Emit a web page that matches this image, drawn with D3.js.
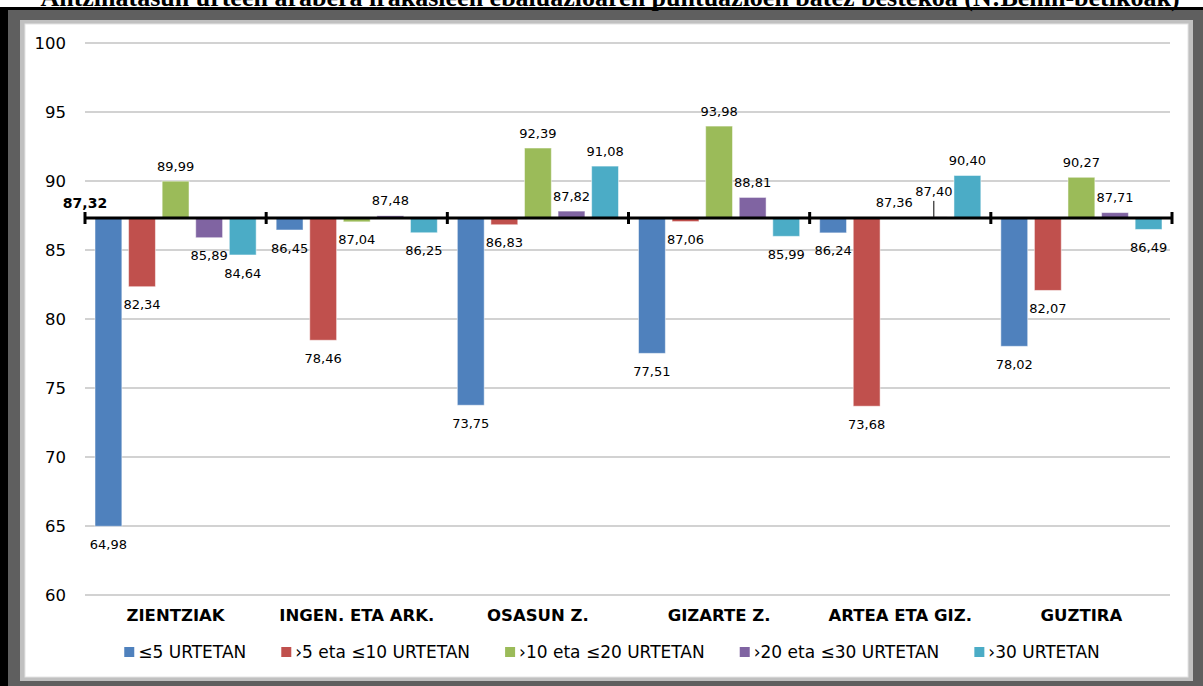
<!DOCTYPE html>
<html>
<head>
<meta charset="utf-8">
<script src="https://cdn.jsdelivr.net/npm/d3@7"></script>
<style>
  body { margin: 0; background: #fff; }
  svg { display: block; }
</style>
</head>
<body>
<script>
    // Chart data
    var categories = ["ZIENTZIAK", "INGEN. ETA ARK.", "OSASUN Z.", "GIZARTE Z.", "ARTEA ETA GIZ.", "GUZTIRA"];
    var series = ["≤5 URTETAN", "›5 eta ≤10 URTETAN", "›10 eta ≤20 URTETAN", "›20 eta ≤30 URTETAN", "›30 URTETAN"];
    var colors = ["#4f81bd", "#c0504d", "#9bbb59", "#8064a2", "#4bacc6"];

    var upTo5 = [64.98, 86.45, 73.75, 77.51, 86.24, 78.02];
    var from5to10 = [82.34, 78.46, 86.83, 87.06, 73.68, 82.07];
    var from10to20 = [89.99, 87.04, 92.39, 93.98, 87.36, 90.27];
    var from20to30 = [85.89, 87.48, 87.82, 88.81, 87.40, 87.71];
    var over30 = [84.64, 86.25, 91.08, 85.99, 90.40, 86.49];
    var values = [upTo5, from5to10, from10to20, from20to30, over30];

    var baseline = 87.32;
    var yTicks = [60, 65, 70, 75, 80, 85, 90, 95, 100];

    var title = "Antzinatasun urteen arabera irakasleen ebaluazioaren puntuazioen batez bestekoa (N:Behin-betikoak)";

    var w = 1203, h = 686;
    var fmt = v => v.toFixed(2).replace(".", ",");

    var svg = d3.select("body").append("svg")
        .attr("width", w)
        .attr("height", h);

    // Frame
    svg.append("rect").attr("x", 0).attr("y", 0).attr("width", w).attr("height", h).attr("fill", "#fff");
    svg.append("rect").attr("x", 0).attr("y", 7).attr("width", w).attr("height", h - 7).attr("fill", "#000");
    svg.append("rect").attr("x", 8).attr("y", 10).attr("width", w - 8).attr("height", h - 10).attr("fill", "#5f5f5f");
    svg.append("rect").attr("x", 20).attr("y", 20).attr("width", 1173).attr("height", 661).attr("fill", "#c0c0c0");
    svg.append("rect").attr("x", 25).attr("y", 24).attr("width", 1163).attr("height", 653)
        .attr("fill", "#fff").attr("stroke", "#e4e4e4").attr("stroke-width", 1);

    // Title, cut off at the top of the picture as in the source
    svg.append("text")
        .attr("x", 610).attr("y", 6)
        .attr("text-anchor", "middle")
        .attr("font-family", "Liberation Serif")
        .attr("font-weight", "bold")
        .attr("font-size", 26)
        .text(title);
    // redraw the black band over the title's descenders
    svg.append("rect").attr("x", 0).attr("y", 7).attr("width", w).attr("height", 3).attr("fill", "#000");

    // Scales
    var x = d3.scaleBand().domain(categories).range([85, 1172]);
    var xs = d3.scaleBand().domain(d3.range(series.length))
        .range([10, x.bandwidth() - 10]).paddingInner(0.2);
    var y = d3.scaleLinear().domain([60, 100]).range([595, 43]);

    // Gridlines
    svg.append("g").selectAll("line")
        .data(yTicks)
        .enter().append("line")
        .attr("x1", 85).attr("x2", 1170)
        .attr("y1", d => y(d)).attr("y2", d => y(d))
        .attr("stroke", "#a6a6a6").attr("stroke-width", 1.2);

    // Y axis labels
    svg.append("g")
        .attr("transform", "translate(66,0)")
        .call(d3.axisLeft(y).tickValues(yTicks).tickSize(0).tickPadding(0))
        .call(g => g.select(".domain").remove())
        .selectAll("text")
        .attr("font-family", "DejaVu Sans")
        .attr("font-size", 16.5)
        .attr("fill", "#000");

    // Bars
    var flat = [];
    values.forEach((arr, s) => arr.forEach((v, c) => flat.push({s: s, c: categories[c], v: v})));

    svg.append("g").selectAll("rect")
        .data(flat)
        .enter().append("rect")
        .attr("x", d => x(d.c) + xs(d.s))
        .attr("width", xs.bandwidth())
        .attr("y", d => Math.min(y(d.v), y(baseline)))
        .attr("height", d => Math.abs(y(d.v) - y(baseline)))
        .attr("fill", d => colors[d.s])
        .attr("stroke", "#fff").attr("stroke-opacity", 0.5).attr("stroke-width", 1);

    // Baseline with ticks at category borders
    svg.append("line")
        .attr("x1", 85).attr("x2", 1173)
        .attr("y1", y(baseline)).attr("y2", y(baseline))
        .attr("stroke", "#000").attr("stroke-width", 3);

    var borders = categories.map(c => x(c)).concat([x.range()[1]]);
    svg.append("g").selectAll("line")
        .data(borders)
        .enter().append("line")
        .attr("x1", d => d).attr("x2", d => d)
        .attr("y1", y(baseline) - 6).attr("y2", y(baseline) + 6)
        .attr("stroke", "#000").attr("stroke-width", 3);

    svg.append("text")
        .attr("x", 85).attr("y", y(baseline) - 10)
        .attr("text-anchor", "middle")
        .attr("font-family", "DejaVu Sans")
        .attr("font-weight", "bold")
        .attr("font-size", 14)
        .text(fmt(baseline));

    // Value labels (two crowded ones in ARTEA ETA GIZ. are nudged)
    var nudge = {"4-2": [-6, 0], "4-3": [0, -10]};

    var labels = svg.append("g")
        .attr("font-family", "DejaVu Sans")
        .attr("font-size", 13)
        .attr("text-anchor", "middle");

    flat.forEach(d => {
        var n = nudge[categories.indexOf(d.c) + "-" + d.s] || [0, 0];
        var cx = x(d.c) + xs(d.s) + xs.bandwidth() / 2;
        var cy = d.v > baseline ? y(d.v) - 15 : y(d.v) + 18;
        labels.append("text")
            .attr("x", cx + n[0]).attr("y", cy + n[1])
            .attr("dy", "0.35em")
            .text(fmt(d.v));
        if (n[1] !== 0) {
            svg.append("line")
                .attr("x1", cx).attr("x2", cx)
                .attr("y1", cy + n[1] + 9).attr("y2", y(d.v))
                .attr("stroke", "#000").attr("stroke-width", 1);
        }
    });

    // Category labels
    svg.append("g").selectAll("text")
        .data(categories)
        .enter().append("text")
        .attr("x", d => x(d) + x.bandwidth() / 2)
        .attr("y", 615)
        .attr("dy", "0.35em")
        .attr("text-anchor", "middle")
        .attr("font-family", "DejaVu Sans")
        .attr("font-weight", "bold")
        .attr("font-size", 16.5)
        .text(d => d);

    // Legend
    var legend = svg.append("g");
    var lx = 0;
    series.forEach((s, i) => {
        var item = legend.append("g").attr("transform", `translate(${lx},0)`);
        item.append("rect")
            .attr("x", 0).attr("y", -5)
            .attr("width", 10).attr("height", 10)
            .attr("fill", colors[i]);
        var t = item.append("text")
            .attr("x", 14).attr("dy", "0.35em")
            .attr("font-family", "DejaVu Sans")
            .attr("font-size", 17)
            .text(s);
        lx += 14 + t.node().getComputedTextLength() + 35;
    });
    var legendWidth = lx - 35;
    legend.attr("transform", `translate(${612 - legendWidth / 2},652)`);
</script>
</body>
</html>
